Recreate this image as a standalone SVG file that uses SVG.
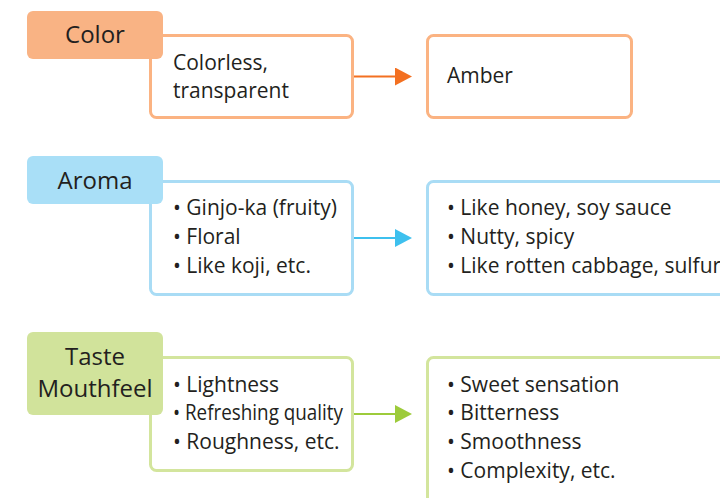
<svg xmlns="http://www.w3.org/2000/svg" width="720" height="498" viewBox="0 0 720 498">
<defs>
<style>
.t{font-family:"Open Sans","Liberation Sans",sans-serif;font-size:21px;fill:#231f20}
.lb{font-family:"Open Sans","Liberation Sans",sans-serif;font-size:24px;fill:#231f20;text-anchor:middle}
.box{fill:#fff;stroke-width:3}
.o{stroke:#fbb382}.b{stroke:#a9dcf5}.g{stroke:#d3e59d}
</style>
<marker id="ao" markerWidth="18" markerHeight="18" refX="0" refY="9" orient="auto" markerUnits="userSpaceOnUse"><path d="M0,0 L17,9 L0,18 Z" fill="#f37021"/></marker>
<marker id="ab" markerWidth="18" markerHeight="18" refX="0" refY="9" orient="auto" markerUnits="userSpaceOnUse"><path d="M0,0 L17,9 L0,18 Z" fill="#3ec0ee"/></marker>
<marker id="ag" markerWidth="18" markerHeight="18" refX="0" refY="9" orient="auto" markerUnits="userSpaceOnUse"><path d="M0,0 L17,9 L0,18 Z" fill="#9dcb3b"/></marker>
</defs>
<rect width="720" height="498" fill="#fff"/>
<g id="connectors">
<line x1="353" y1="76.5" x2="395" y2="76.5" stroke="#f37021" stroke-width="2" marker-end="url(#ao)"/>
<line x1="353" y1="238" x2="395" y2="238" stroke="#3ec0ee" stroke-width="2" marker-end="url(#ab)"/>
<line x1="353" y1="414" x2="395" y2="414" stroke="#9dcb3b" stroke-width="2" marker-end="url(#ag)"/>
</g>
<g id="color-before">
<rect class="box o" x="150.5" y="35.5" width="202" height="82" rx="6"/>
<text class="t" x="173" y="70">Colorless,</text>
<text class="t" x="173" y="98">transparent</text>
</g>
<g id="color-label">
<rect x="27" y="11" width="136" height="48" rx="6" fill="#f9b384"/>
<text class="lb" x="95" y="43">Color</text>
</g>
<g id="color-after">
<rect class="box o" x="427.5" y="35.5" width="204" height="82" rx="6"/>
<text class="t" x="447" y="83">Amber</text>
</g>
<g id="aroma-before">
<rect class="box b" x="150.5" y="181.5" width="202" height="113" rx="6"/>
<text class="t" x="173" y="215">• Ginjo-ka (fruity)</text>
<text class="t" x="173" y="244">• Floral</text>
<text class="t" x="173" y="273">• Like koji, etc.</text>
</g>
<g id="aroma-label">
<rect x="27" y="156" width="136" height="48" rx="6" fill="#a9dff7"/>
<text class="lb" x="95" y="189">Aroma</text>
</g>
<g id="aroma-after">
<rect class="box b" x="427.5" y="181.5" width="340" height="113" rx="6"/>
<text class="t" x="447" y="215">• Like honey, soy sauce</text>
<text class="t" x="447" y="244">• Nutty, spicy</text>
<text class="t" x="447" y="273">• Like rotten cabbage, sulfur</text>
</g>
<g id="taste-before">
<rect class="box g" x="150.5" y="357.5" width="202" height="113" rx="6"/>
<text class="t" x="173" y="392">• Lightness</text>
<text class="t" x="173" y="420" textLength="170" lengthAdjust="spacingAndGlyphs">• Refreshing quality</text>
<text class="t" x="173" y="449">• Roughness, etc.</text>
</g>
<g id="taste-label">
<rect x="27" y="332" width="136" height="83" rx="6" fill="#d1e39b"/>
<text class="lb" x="95" y="365">Taste</text>
<text class="lb" x="95" y="397">Mouthfeel</text>
</g>
<g id="taste-after">
<rect class="box g" x="427.5" y="357.5" width="340" height="180" rx="6"/>
<text class="t" x="447" y="392">• Sweet sensation</text>
<text class="t" x="447" y="420">• Bitterness</text>
<text class="t" x="447" y="449">• Smoothness</text>
<text class="t" x="447" y="478">• Complexity, etc.</text>
</g>
</svg>
